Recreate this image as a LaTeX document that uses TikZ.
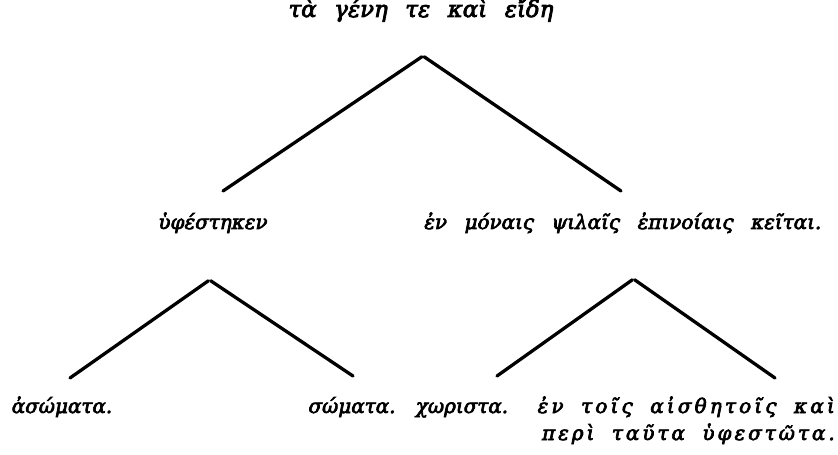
\documentclass[tikz,border=0pt]{standalone}
\usepackage{fontspec}
\newfontfamily\greekfont{DejaVu Serif}
\newcommand{\greekitalic}{\greekfont\itshape\fontsize{17}{23}\selectfont\addfontfeature{FakeBold=3.5}}
\tikzset{
  greektext/.style={font=\greekitalic, inner sep=0pt,
    execute at begin node={\spaceskip=15pt\relax}},
  headtext/.style={greektext, font=\greekitalic\fontsize{19.5}{23}\selectfont},
  spreadtext/.style={greektext, font=\greekitalic\addfontfeature{LetterSpace=#1}},
  branch/.style={line width=2.8pt, line cap=round, shorten <=1.2pt}
}
\begin{document}
\begin{tikzpicture}[x=0.03cm, y=-0.03cm]
  \useasboundingbox (0,0) rectangle (838,455);
  % first division
  \node[headtext, anchor=base] (genera) at (421,17) {τὰ γένη τε καὶ εἴδη};
  \coordinate (fork-top) at (423,56);
  \coordinate (end-subsist) at (223,191);
  \coordinate (end-thought) at (621,191);
  \draw[branch] (fork-top) -- (end-subsist);
  \draw[branch] (fork-top) -- (end-thought);
  \node[greektext, anchor=base] (subsist) at (213,229) {ὑφέστηκεν};
  \node[greektext, anchor=base west] (thought) at (424,229) {ἐν μόναις ψιλαῖς ἐπινοίαις κεῖται.};
  % second division, left
  \coordinate (fork-left) at (209.5,280);
  \coordinate (end-incorp) at (70,378);
  \coordinate (end-corp) at (353,376);
  \draw[branch] (fork-left) -- (end-incorp);
  \draw[branch] (fork-left) -- (end-corp);
  % second division, right
  \coordinate (fork-right) at (633.5,279);
  \coordinate (end-separ) at (497,376);
  \coordinate (end-sense) at (775,378);
  \draw[branch] (fork-right) -- (end-separ);
  \draw[branch] (fork-right) -- (end-sense);
  \node[greektext, anchor=base] (incorp) at (62,413) {ἀσώματα.};
  \node[greektext, anchor=base] (corp) at (352,413) {σώματα.};
  \node[greektext, anchor=base] (separ) at (462,413) {χωριστα.};
  \node[spreadtext=16, anchor=base east] (sense) at (835,413) {ἐν τοῖς αἰσθητοῖς καὶ};
  \node[spreadtext=15, anchor=base east] (sense2) at (835,440) {περὶ ταῦτα ὑφεστῶτα.};
\end{tikzpicture}
\end{document}
